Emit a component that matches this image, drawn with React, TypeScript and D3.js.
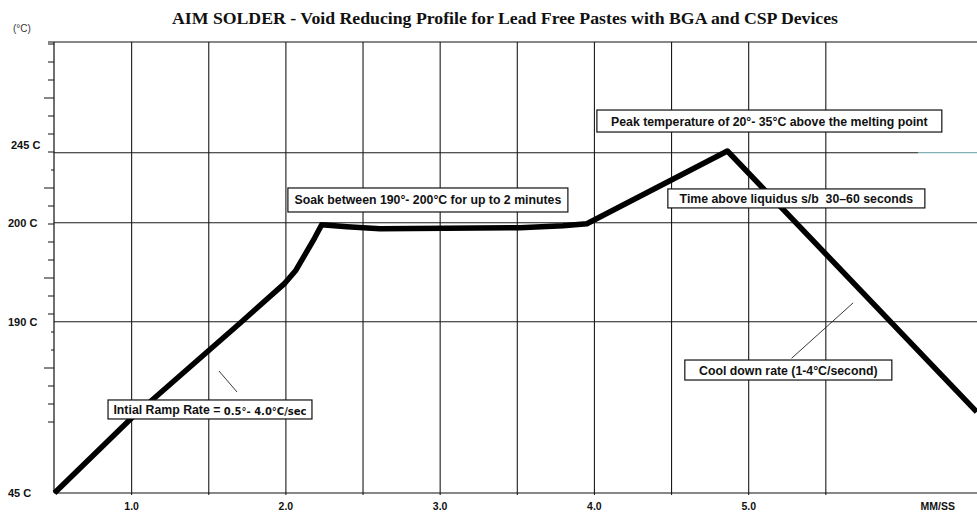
import React from "react";
import * as d3 from "d3";

// ---- data ----
const timeMin = [0.5, 1.0, 1.713, 1.994, 2.065, 2.186, 2.232, 2.396, 2.61, 3.517, 3.796, 3.951, 4.862, 6.478];
const tempC = [45, 108.5, 190, 193.9, 195.2, 198.45, 199.8, 199.6, 199.4, 199.5, 199.7, 199.9, 246, 113.6];

const yTickValues = [45, 190, 200, 245];
const yTickLabels = ["45 C", "190 C", "200 C", "245 C"];
const yGridValues = [190, 200, 245];
const xTickValues = [1, 2, 3, 4, 5];
const xTickLabels = ["1.0", "2.0", "3.0", "4.0", "5.0"];
const xGridValues = [1, 1.5, 2, 2.5, 3, 3.5, 4, 4.5, 5, 5.5];

const titleText = "AIM SOLDER - Void Reducing Profile for Lead Free Pastes with BGA and CSP Devices";
const xUnitLabel = "MM/SS";
const xUnitAt = 6.226;
const yUnitLabel = "(°C)";

const annotations = [
  { text: "Soak between 190°- 200°C for up to 2 minutes", extra: "", x0: 2.013, x1: 3.828, y: 214.6 },
  { text: "Peak temperature of 20°- 35°C above the melting point", extra: "", x0: 4.016, x1: 6.252, y: 263.6 },
  { text: "Time above liquidus s/b  30–60 seconds", extra: "", x0: 4.476, x1: 6.142, y: 215.6 },
  { text: "Intial Ramp Rate = ", extra: "0.5°- 4.0°C/sec", x0: 0.847, x1: 2.169, y: 115.7 },
  { text: "Cool down rate (1-4°C/second)", extra: "", x0: 4.586, x1: 5.928, y: 149.1 },
];
const boxHeights = [24, 22, 19, 19, 20];

const leaders = [
  { x0: 1.566, y0: 148.3, x1: 1.683, y1: 130.5 },
  { x0: 5.278, y0: 159.0, x1: 5.677, y1: 191.9 },
];

const W = 977;
const H = 512;

export default function App() {
  const x = d3.scaleLinear().domain([0.5, 6.48]).range([54.5, 977]);
  const y = d3.scaleLinear().domain([45, 190, 200, 245, 310]).range([493, 321.7, 222.7, 152.7, 42]);

  const left = 54;
  const right = W;
  const top = y(310);
  const bottom = y(45);

  const pts: [number, number][] = timeMin.map((t, i) => [t, tempC[i]]);
  const line = d3
    .line<[number, number]>()
    .x((d) => x(d[0]))
    .y((d) => y(d[1]));

  const minorTicks = d3.range(22).map((k) => ({ py: top + 2 + 18 * k, k }));

  const sans = "'Liberation Sans', Arial, sans-serif";

  return (
    <div style={{ position: "absolute", left: 0, top: 0 }}>
      <svg width={W} height={H} style={{ display: "block", background: "#fff" }}>
        <rect x={0} y={0} width={W} height={H} fill="#fff" />
        {/* title */}
        <text
          x={505}
          y={24}
          textAnchor="middle"
          fontFamily="'Liberation Serif', 'DejaVu Serif', serif"
          fontWeight="bold"
          fontSize={16}
          textLength={666}
          lengthAdjust="spacingAndGlyphs"
          fill="#111"
        >
          {titleText}
        </text>
        <text x={13} y={32} fontFamily={sans} fontSize={10} fill="#333">
          {yUnitLabel}
        </text>

        {/* vertical grid */}
        {xGridValues.map((v) => (
          <line key={"gx" + v} x1={x(v)} x2={x(v)} y1={top} y2={bottom + 2} stroke="#1a1a1a" strokeWidth={1.1} />
        ))}
        {/* horizontal grid */}
        {yGridValues.map((v) => (
          <line
            key={"gy" + v}
            x1={left}
            x2={v === 245 ? x(6.1) : right}
            y1={y(v)}
            y2={y(v)}
            stroke="#1a1a1a"
            strokeWidth={1.1}
          />
        ))}
        <line x1={x(6.1)} x2={right} y1={y(245)} y2={y(245)} stroke="#5f9ea0" strokeWidth={1} />

        {/* frame */}
        <line x1={left - 6} x2={right} y1={top} y2={top} stroke="#111" strokeWidth={1.2} />
        <line x1={left} x2={left} y1={top} y2={bottom} stroke="#111" strokeWidth={1.2} />
        <line x1={left} x2={right} y1={bottom} y2={bottom} stroke="#111" strokeWidth={1.2} />

        {/* y minor ticks */}
        {minorTicks.map(({ py, k }) => {
          const len = k % 5 === 3 ? 10 : k === 7 || k === 16 || k === 17 ? 3 : 6;
          return <line key={"t" + k} x1={left - len} x2={left} y1={py} y2={py} stroke="#111" strokeWidth={1} />;
        })}

        {/* y labels */}
        {yTickValues.map((v, i) => (
          <text
            key={"yl" + v}
            x={v === 245 ? 11 : 8}
            y={y(v) + (v === 245 ? -4 : 4)}
            fontFamily={sans}
            fontWeight="bold"
            fontSize={11}
            fill="#111"
          >
            {yTickLabels[i]}
          </text>
        ))}

        {/* x labels */}
        {xTickValues.map((v, i) => (
          <text
            key={"xl" + v}
            x={x(v)}
            y={510}
            textAnchor="middle"
            fontFamily={sans}
            fontWeight="bold"
            fontSize={10.5}
            fill="#111"
          >
            {xTickLabels[i]}
          </text>
        ))}
        <text x={x(xUnitAt)} y={510} textAnchor="middle" fontFamily={sans} fontWeight="bold" fontSize={10.5} fill="#111">
          {xUnitLabel}
        </text>

        {/* profile curve */}
        <path d={line(pts) || ""} fill="none" stroke="#000" strokeWidth={5.5} strokeLinejoin="round" strokeLinecap="butt" />

        {/* leader lines */}
        {leaders.map((l, i) => (
          <line key={"ld" + i} x1={x(l.x0)} y1={y(l.y0)} x2={x(l.x1)} y2={y(l.y1)} stroke="#222" strokeWidth={0.9} />
        ))}

        {/* annotation boxes */}
        {annotations.map((a, i) => {
          const h = boxHeights[i];
          const x0 = x(a.x0);
          const x1 = x(a.x1);
          const cy = y(a.y);
          return (
            <g key={"an" + i}>
              <rect x={x0} y={cy - h / 2} width={x1 - x0} height={h} fill="#fff" stroke="#111" strokeWidth={1.2} />
              <text
                x={(x0 + x1) / 2}
                y={cy + 4.5}
                textAnchor="middle"
                fontFamily={sans}
                fontWeight="bold"
                fontSize={12.3}
                fill="#111"
                style={{ whiteSpace: "pre" }}
              >
                {a.text}
                {a.extra ? (
                  <tspan fontFamily="'DejaVu Sans', Verdana, sans-serif" fontSize={10} dy={1}>
                    {a.extra}
                  </tspan>
                ) : null}
              </text>
            </g>
          );
        })}
      </svg>
    </div>
  );
}
